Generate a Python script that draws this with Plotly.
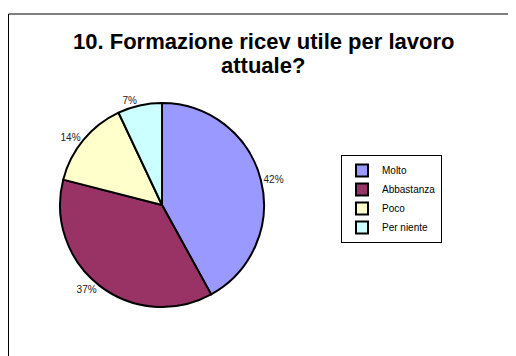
import plotly.graph_objects as go

categories = ["Molto", "Abbastanza", "Poco", "Per niente"]
values = [42, 37, 14, 7]
colors = ["#9999FF", "#993366", "#FFFFCC", "#CCFFFF"]
title_lines = ["10. Formazione ricev utile per lavoro", "attuale?"]

W, H = 516, 356
OFF = 8  # default page body margin
cx, cy, r = 162 - OFF, 205 - OFF, 102

fig = go.Figure(go.Pie(
    labels=categories,
    values=values,
    sort=False,
    direction="clockwise",
    rotation=0,
    marker=dict(colors=colors, line=dict(color="black", width=2)),
    textposition="outside",
    texttemplate="%{value}%",
    textfont=dict(family="Liberation Sans, Arial", size=10, color="#222222"),
    domain=dict(x=[(cx - r) / W, (cx + r) / W], y=[(H - cy - r) / H, (H - cy + r) / H]),
    hoverinfo="label+percent",
))

title_mid_y = [41, 65]
annotations = [
    dict(text="<b>%s</b>" % t, xref="paper", yref="paper",
         x=(263 - OFF) / W, xanchor="center",
         y=1 - (my - OFF) / H, yanchor="middle",
         showarrow=False,
         font=dict(family="Liberation Sans, Arial", size=22, color="black"))
    for t, my in zip(title_lines, title_mid_y)
]

fig.update_layout(
    width=W, height=H,
    margin=dict(l=0, r=0, t=0, b=0),
    paper_bgcolor="white",
    plot_bgcolor="white",
    annotations=annotations,
    legend=dict(
        x=(341 - OFF) / W, xanchor="left",
        y=1 - (155 - OFF) / H, yanchor="top",
        bordercolor="black", borderwidth=1,
        bgcolor="white",
        font=dict(family="Liberation Sans, Arial", size=10, color="black"),
        itemwidth=30,
    ),
    shapes=[
        dict(type="line", xref="paper", yref="paper",
             x0=0.5 / W, x1=1.02, y0=1 - (14 - OFF) / H, y1=1 - (14 - OFF) / H,
             line=dict(color="black", width=1)),
        dict(type="line", xref="paper", yref="paper",
             x0=0.5 / W, x1=0.5 / W, y0=1 - (14 - OFF) / H, y1=-0.02,
             line=dict(color="black", width=1)),
    ],
)

fig.write_html("out.html")
